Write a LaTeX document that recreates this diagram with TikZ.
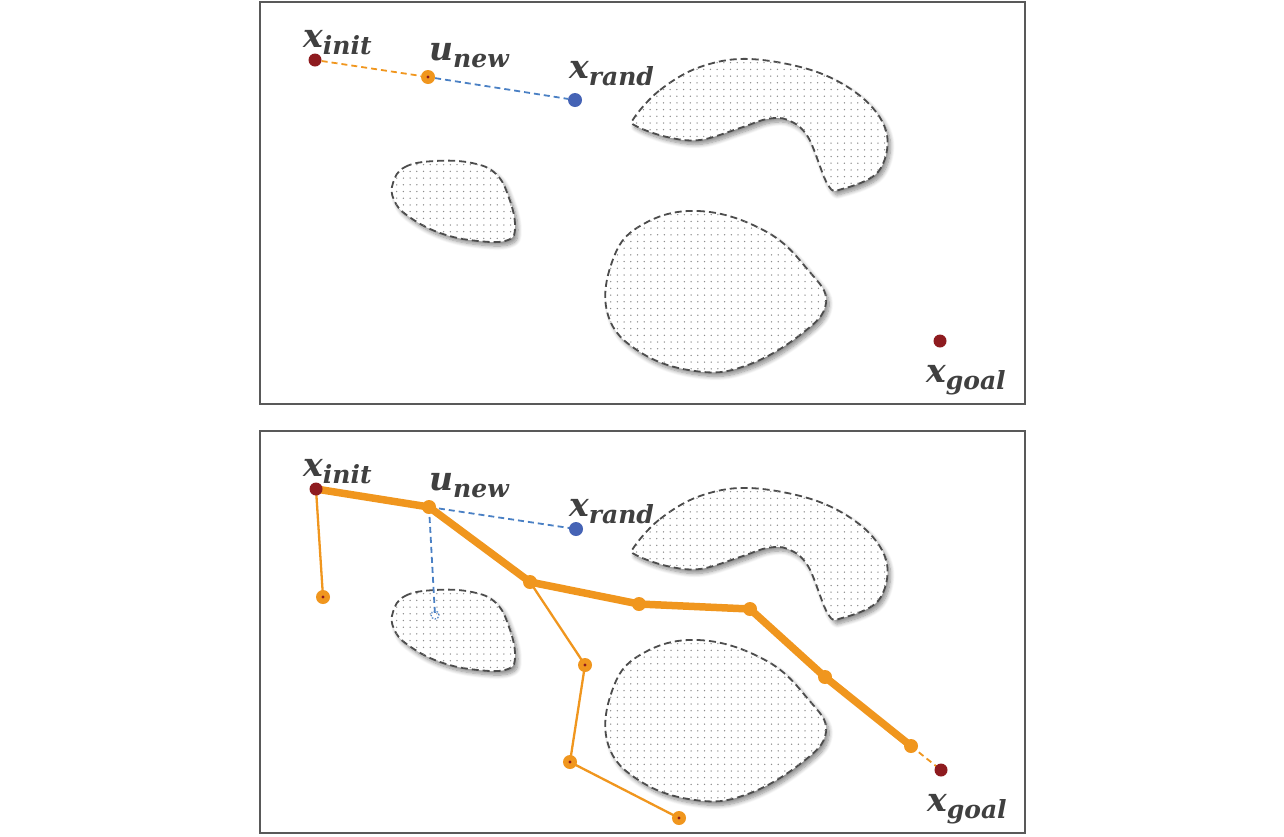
\documentclass[tikz,border=0pt]{standalone}
\usepackage{fontspec}
\newfontfamily\lblfont{DejaVu Serif}
\usetikzlibrary{shadows.blur}
\definecolor{txt}{HTML}{404040}
\definecolor{orng}{HTML}{F0961E}
\definecolor{dred}{HTML}{8E1B1F}
\definecolor{blu}{HTML}{4563B5}
\definecolor{bludash}{HTML}{4A80C4}
\definecolor{frm}{HTML}{595959}
\newcommand{\lab}[2]{{\lblfont\bfseries\itshape\fontsize{33}{33}\selectfont #1\raisebox{-7pt}{\fontsize{25}{25}\selectfont #2}}}
\tikzset{
  frame/.style={draw=frm, line width=1.3pt},
  obst/.style={draw=black!70, line width=1.8pt, dash pattern=on 7pt off 4pt,
     fill=white, blur shadow={shadow xshift=3pt, shadow yshift=-4pt, shadow blur steps=8, shadow opacity=45, shadow blur radius=4pt}},
  dotc/.style={fill=black!45},
  lbl/.style={text=txt, inner sep=0pt, anchor=base west},
  redpt/.style={circle, fill=dred, minimum size=13pt, inner sep=0pt},
  bluept/.style={circle, fill=blu, minimum size=14pt, inner sep=0pt},
  orpt/.style={circle, fill=orng, minimum size=14pt, inner sep=0pt},
  orptc/.style={circle, fill=orng, minimum size=14pt, inner sep=0pt, path picture={\fill[dred] (path picture bounding box.center) circle (1.7pt);}},
  thickp/.style={draw=orng, line width=7.5pt, line join=round, line cap=round},
  thinp/.style={draw=orng, line width=2.3pt},
  odash/.style={draw=orng, line width=1.8pt, dash pattern=on 6pt off 4pt},
  bdash/.style={draw=bludash, line width=1.8pt, dash pattern=on 6pt off 4pt},
}
\newcommand{\smallblob}{plot[smooth cycle, tension=0.7] coordinates {(393,183) (405,167) (435,161) (472,163) (496,174) (509,198) (515,226) (508,240) (478,241) (440,233) (408,216) (394,200)}}
\newcommand{\crescent}{plot[smooth cycle, tension=0.6] coordinates {(634,118) (660,90) (700,67) (750,59) (817,72) (865,100) (887,135) (878,172) (842,189) (828,185) (808,137) (788,120) (767,119) (740,128) (700,140) (667,137) (636,126)}}
\newcommand{\bigblob}{plot[smooth cycle, tension=0.7] coordinates {(640,226) (698,211) (765,231) (808,270) (826,303) (800,335) (745,366) (695,371) (640,352) (608,315) (612,262)}}
\newcommand{\dotgrid}[4]{\foreach \dx in {#1,...,#2} {\foreach \dy in {#3,...,#4} {\fill[dotc] (\dx,\dy) circle (0.75pt);}}}
\newcommand{\obstacles}{%
  \path[obst] \smallblob;
  \begin{scope}\clip \smallblob; \dotgrid{390,396.7}{520}{158,164.7}{245}\end{scope}
  \path[obst] \crescent;
  \begin{scope}\clip \crescent; \dotgrid{630,636.7}{892}{56,62.7}{192}\end{scope}
  \path[obst] \bigblob;
  \begin{scope}\clip \bigblob; \dotgrid{604,610.7}{830}{208,214.7}{374}\end{scope}
}
\begin{document}
\begin{tikzpicture}[x=1pt, y=-1pt]
\useasboundingbox (0,0) rectangle (1284,836);
% ---------- top panel ----------
\draw[frame] (260,2) rectangle (1025,404);
\obstacles
\node[redpt] (ti) at (315,60) {};
\node[orptc] (tu) at (428,77) {};
\node[bluept] (tr) at (575,100) {};
\node[redpt] (tg) at (940,341) {};
\draw[odash] (ti) -- (tu);
\draw[bdash] (tu) -- (tr);
\node[lbl] (tli) at (303,47) {\lab{x}{init}};
\node[lbl] (tlu) at (429,60) {\lab{u}{new}};
\node[lbl] (tlr) at (569,78) {\lab{x}{rand}};
\node[lbl] (tlg) at (926,382) {\lab{x}{goal}};
% ---------- bottom panel ----------
\draw[frame] (260,431) rectangle (1025,833);
\begin{scope}[shift={(0,429)}]
\obstacles
\end{scope}
\coordinate (bi) at (316,489);
\coordinate (bu) at (429,507);
\coordinate (p1) at (530,582);
\coordinate (p2) at (639,604);
\coordinate (p3) at (750,609);
\coordinate (p4) at (825,677);
\coordinate (p5) at (911,746);
\coordinate (bg) at (941,770);
\coordinate (q0) at (323,597);
\coordinate (q1) at (585,665);
\coordinate (q2) at (570,762);
\coordinate (q3) at (679,818);
\coordinate (bs) at (435,615);
\coordinate (brc) at (576,529);
\draw[bdash] (bu) -- (brc);
\draw[bdash] (bu) -- (bs);
\draw[bludash, line width=1.2pt, dash pattern=on 1.5pt off 1.5pt] (bs) circle (4pt);
\draw[thinp] (bi) -- (q0);
\draw[thinp] (p1) -- (q1) -- (q2) -- (q3);
\draw[odash] (p5) -- (bg);
\draw[thickp] (bi) -- (bu) -- (p1) -- (p2) -- (p3) -- (p4) -- (p5);
\node[redpt] (nbi) at (bi) {};
\node[orpt] (nbu) at (bu) {};
\node[orpt] (n1) at (p1) {};
\node[orpt] (n2) at (p2) {};
\node[orpt] (n3) at (p3) {};
\node[orpt] (n4) at (p4) {};
\node[orpt] (n5) at (p5) {};
\node[orptc] (m0) at (q0) {};
\node[orptc] (m1) at (q1) {};
\node[orptc] (m2) at (q2) {};
\node[orptc] (m3) at (q3) {};
\node[bluept] (br) at (brc) {};
\node[redpt] (nbg) at (bg) {};
\node[lbl] (bli) at (303,476) {\lab{x}{init}};
\node[lbl] (blu) at (429,490) {\lab{u}{new}};
\node[lbl] (blr) at (569,516) {\lab{x}{rand}};
\node[lbl] (blg) at (927,811) {\lab{x}{goal}};
\end{tikzpicture}
\end{document}
